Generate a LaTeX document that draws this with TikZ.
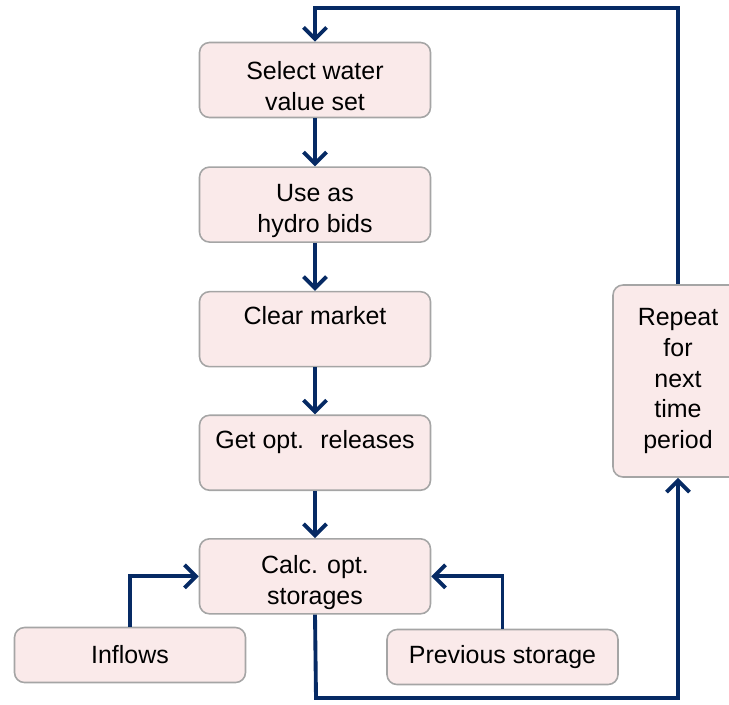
\documentclass[tikz,border=0pt]{standalone}
\usepackage{fontspec}
\setmainfont{Liberation Sans}
\usetikzlibrary{positioning,calc}
\usetikzlibrary{arrows.meta}

\definecolor{boxfill}{RGB}{250,234,234}
\definecolor{boxline}{RGB}{165,165,165}
\definecolor{navy}{RGB}{6,42,100}

\newcommand{\lowtext}{\rule{0pt}{17pt}}

\begin{document}
\begin{tikzpicture}[
         stepbox/.style = {draw=boxline, line width=0.9pt, fill=boxfill,
         rounded corners=0.2cm, align=center, inner sep=2pt,
         minimum width=4.62cm, minimum height=1.5cm,
         font=\fontsize{14.2}{17.5}\selectfont},
         inbox/.style = {stepbox, minimum height=1.1cm},
         flow/.style = {navy, line width=2.2pt,
         -{Straight Barb[length=2.3mm,width=4.6mm,line width=2.2pt]}}
]

      \useasboundingbox (0,0) rectangle (14.58,-14.08);

      % main chain
      \node[stepbox]                      (select)  at (6.3,-1.6) {\lowtext Select water\\value set};
      \node[stepbox, below=0.96cm of select]  (bids)    {\lowtext Use as\\hydro bids};
      \node[stepbox, below=0.96cm of bids]    (market)  {Clear market\\[-2pt]};
      \node[stepbox, below=0.94cm of market]  (release) {Get opt.~ releases\\[-2pt]};
      \node[stepbox, below=0.94cm of release] (calc)    {\lowtext Calc. opt.\\storages};

      % inputs
      \node[inbox] (inflows)  at (2.6,-13.1)   {Inflows};
      \node[inbox] (previous) at (10.05,-13.14) {Previous storage};

      % repeat box
      \node[stepbox, minimum width=2.6cm, minimum height=3.84cm]
         (repeat) at (13.56,-7.62) {Repeat\\for\\next\\time\\period};

      % loop corners
      \coordinate (looptop) at (13.56,-0.16);
      \coordinate (loopbot) at (6.32,-13.96);

      \draw[flow] (select)  -- (bids);
      \draw[flow] (bids)    -- (market);
      \draw[flow] (market)  -- (release);
      \draw[flow] (release) -- (calc);

      \draw[flow] (inflows.north)  |- (calc.west);
      \draw[flow] (previous.north) |- (calc.east);

      \draw[flow] (calc.south) -- (loopbot) -| (repeat.south);
      \draw[flow] (repeat.north) -- (looptop) -| (select.north);

\end{tikzpicture}
\end{document}
